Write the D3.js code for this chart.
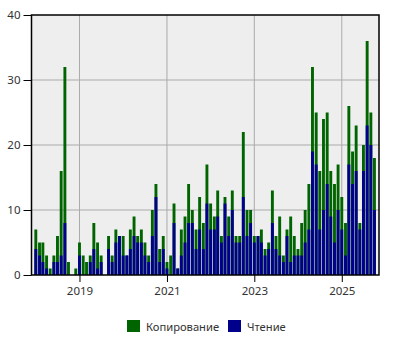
<!DOCTYPE html>
<html>
<head>
<meta charset="utf-8">
<script src="https://cdn.jsdelivr.net/npm/d3@7"></script>
<style>
  body { margin: 0; background: #fff; }
  text { font-family: "Noto Sans", sans-serif; }
</style>
</head>
<body>
<svg></svg>
<script>
// Size of the whole picture
var width = 400;
var height = 350;
var margin = {top: 15, right: 21, bottom: 75, left: 31.5};

// monthly counts, Jan 2018 .. Oct 2025
var copyCounts = [7, 5, 5, 3, 1, 3, 6, 16, 32, 2, 0, 1,
    5, 3, 2, 3, 8, 5, 3, 0, 6, 3, 7, 6,
    6, 3, 7, 9, 6, 7, 5, 3, 10, 14, 4, 6,
    2, 3, 11, 1, 7, 9, 14, 10, 7, 12, 8, 17,
    11, 9, 13, 6, 12, 9, 13, 6, 6, 22, 10, 10,
    6, 6, 7, 4, 5, 13, 6, 9, 3, 7, 9, 6,
    4, 8, 10, 14, 32, 25, 16, 24, 25, 16, 14, 17,
    12, 8, 26, 19, 23, 8, 20, 36, 25, 18];
var readCounts = [4, 3, 2, 1, 0, 2, 2, 3, 8, 0, 0, 0,
    3, 0, 0, 2, 4, 1, 2, 0, 4, 2, 5, 6,
    3, 3, 4, 6, 5, 5, 3, 2, 6, 12, 2, 4,
    1, 0, 8, 1, 3, 5, 8, 8, 4, 7, 4, 11,
    7, 7, 9, 5, 11, 6, 10, 5, 5, 12, 6, 8,
    5, 6, 5, 3, 4, 8, 4, 3, 2, 6, 2, 3,
    3, 3, 5, 7, 19, 17, 7, 10, 14, 9, 5, 10,
    7, 3, 17, 14, 16, 7, 16, 23, 20, 10];
var months = d3.utcMonths(new Date(Date.UTC(2018, 0, 1)), new Date(Date.UTC(2025, 10, 1)));
var yearTicks = [2019, 2021, 2023, 2025];
var yTicks = [0, 10, 20, 30, 40];
var seriesNames = ["Копирование", "Чтение"];
var seriesColors = ["#006400", "#00008b"];

var svg = d3.select("svg")
    .attr("width", width)
    .attr("height", height);

var x = d3.scaleUtc()
    .domain([new Date(Date.UTC(2017, 10, 26)), new Date(Date.UTC(2025, 10, 8))])
    .range([margin.left, width - margin.right]);

var y = d3.scaleLinear()
    .domain([0, 40])
    .range([height - margin.bottom, margin.top]);

// plot background
svg.append("rect")
    .attr("x", margin.left)
    .attr("y", margin.top)
    .attr("width", width - margin.right - margin.left)
    .attr("height", height - margin.bottom - margin.top)
    .attr("fill", "#eeeeee");

// grid lines
svg.append("g").selectAll("line")
    .data(yTicks.slice(1, -1))
    .enter().append("line")
    .attr("x1", margin.left)
    .attr("x2", width - margin.right)
    .attr("y1", function(d) { return y(d); })
    .attr("y2", function(d) { return y(d); })
    .attr("stroke", "#aaaaaa")
    .attr("stroke-width", 1);

svg.append("g").selectAll("line")
    .data(yearTicks)
    .enter().append("line")
    .attr("x1", function(d) { return x(new Date(Date.UTC(d, 0, 1))); })
    .attr("x2", function(d) { return x(new Date(Date.UTC(d, 0, 1))); })
    .attr("y1", margin.top)
    .attr("y2", height - margin.bottom)
    .attr("stroke", "#aaaaaa")
    .attr("stroke-width", 1);

var barW = (x(months[1]) - x(months[0])) * 0.78;

// copy bars first, read bars drawn over them
var bars = svg.append("g");
[copyCounts, readCounts].forEach(function(values, k) {
    bars.append("g").selectAll("rect")
        .data(values)
        .enter().append("rect")
        .attr("x", function(d, i) { return x(months[i]) - barW / 2; })
        .attr("y", function(d) { return y(d); })
        .attr("width", barW)
        .attr("height", function(d) { return y(0) - y(d); })
        .attr("fill", seriesColors[k]);
});

// frame
svg.append("rect")
    .attr("x", margin.left)
    .attr("y", margin.top)
    .attr("width", width - margin.right - margin.left)
    .attr("height", height - margin.bottom - margin.top)
    .attr("fill", "none")
    .attr("stroke", "#000")
    .attr("stroke-width", 1.5);

// axes
var yAxis = svg.append("g")
    .attr("transform", "translate(" + margin.left + ",0)")
    .call(d3.axisLeft(y).tickValues(yTicks).tickSize(8).tickPadding(3));
yAxis.select(".domain").remove();

var xAxis = svg.append("g")
    .attr("transform", "translate(0," + (height - margin.bottom) + ")")
    .call(d3.axisBottom(x)
        .tickValues(yearTicks.map(function(d) { return new Date(Date.UTC(d, 0, 1)); }))
        .tickFormat(d3.utcFormat("%Y"))
        .tickSize(7)
        .tickPadding(5));
xAxis.select(".domain").remove();

svg.selectAll(".tick text")
    .style("font-family", "Noto Sans, sans-serif")
    .style("font-size", "11.5px")
    .attr("fill", "#333");
svg.selectAll(".tick line").attr("stroke", "#000");

// legend
var legend = svg.append("g")
    .attr("transform", "translate(127,320)");

var legendX = [0, 101];
seriesNames.forEach(function(name, k) {
    legend.append("rect")
        .attr("x", legendX[k])
        .attr("y", 0)
        .attr("width", 13)
        .attr("height", 12)
        .attr("fill", seriesColors[k]);
    legend.append("text")
        .attr("x", legendX[k] + 19)
        .attr("y", 11)
        .style("font-size", "11.2px")
        .attr("fill", "#333")
        .text(name);
});
</script>
</body>
</html>
